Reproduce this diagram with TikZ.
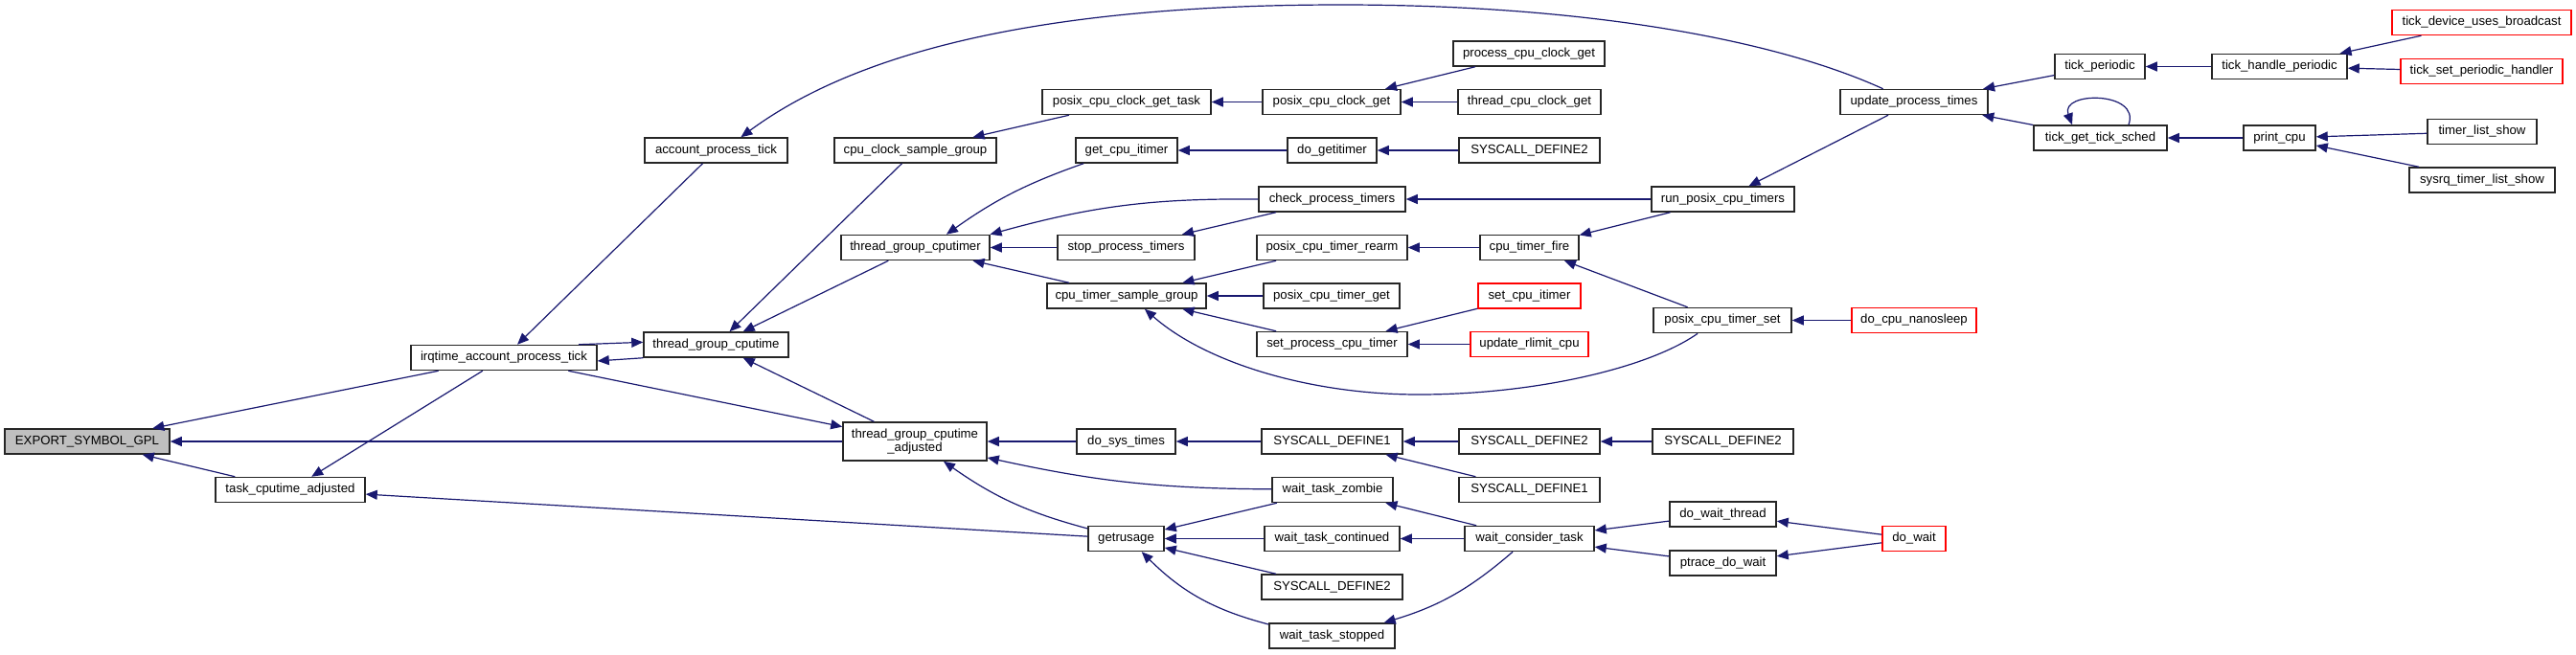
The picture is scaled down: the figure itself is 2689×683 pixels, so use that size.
\documentclass[tikz,border=0pt]{standalone}
\usepackage{fontspec}
\setmainfont{Liberation Sans}
\usepackage{xcolor}
\usepackage{tikz}
\usetikzlibrary{arrows.meta, calc}

\definecolor{edgeblue}{HTML}{191970}

\begin{document}
\begin{tikzpicture}[x=1pt, y=-1pt,
            fn/.style={rectangle, draw=black!85, line width=1.5pt, fill=white,
            minimum height=26pt, inner sep=0pt, align=center,
            font=\fontsize{13.2}{14}\selectfont},
            fnred/.style={fn, draw=red},
            fnroot/.style={fn, fill=black!25},
            call/.style={-{Triangle[length=12pt,width=10pt]}, line width=1.2pt, edgeblue}
        ]
            \useasboundingbox (0,0) rectangle (2689,683);

            % Left part
            \node[fnroot, minimum width=172] (export)  at (91,461)    {EXPORT\_SYMBOL\_GPL};
            \node[fn, minimum width=156]     (taskadj) at (303,511.5) {task\_cputime\_adjusted};
            \node[fn, minimum width=194]     (irq)     at (526,373.5) {irqtime\_account\_process\_tick};
            \node[fn, minimum width=149]     (acct)    at (747.5,157) {account\_process\_tick};
            \node[fn, minimum width=151]     (tgc)     at (747.5,360) {thread\_group\_cputime};

            % Column with the cputimer
            \node[fn, minimum width=169] (ccsg)     at (955.5,157)   {cpu\_clock\_sample\_group};
            \node[fn, minimum width=155] (tgctimer) at (955.5,258.5) {thread\_group\_cputimer};
            \node[fn, minimum width=150, minimum height=40] (tgcadj) at (955,461)
                {thread\_group\_cputime\\\_adjusted};

            \node[fn, minimum width=176] (pcgtask)    at (1176,106.5)   {posix\_cpu\_clock\_get\_task};
            \node[fn, minimum width=106] (getitimer)  at (1176,157)     {get\_cpu\_itimer};
            \node[fn, minimum width=143] (stoppt)     at (1175.5,258.5) {stop\_process\_timers};
            \node[fn, minimum width=166] (ctsg)       at (1176,309)     {cpu\_timer\_sample\_group};
            \node[fn, minimum width=103] (dosystimes) at (1175.5,461)   {do\_sys\_times};
            \node[fn, minimum width=79]  (getrusage)  at (1175.5,562.5) {getrusage};

            % Middle column
            \node[fn, minimum width=144] (pcg)         at (1390,106.5)   {posix\_cpu\_clock\_get};
            \node[fn, minimum width=93]  (dogetitimer) at (1390.5,157)   {do\_getitimer};
            \node[fn, minimum width=153] (cpt)         at (1390.5,208)   {check\_process\_timers};
            \node[fn, minimum width=157] (rearm)       at (1390.5,258.5) {posix\_cpu\_timer\_rearm};
            \node[fn, minimum width=142] (timerget)    at (1390,309)     {posix\_cpu\_timer\_get};
            \node[fn, minimum width=157] (setproc)     at (1390.5,359.5) {set\_process\_cpu\_timer};
            \node[fn, minimum width=147] (sdonea)      at (1390.5,461)   {SYSCALL\_DEFINE1};
            \node[fn, minimum width=126] (zombie)      at (1391,511.5)   {wait\_task\_zombie};
            \node[fn, minimum width=141] (continued)   at (1390.5,562.5) {wait\_task\_continued};
            \node[fn, minimum width=147] (sdtwolow)    at (1390.5,613)   {SYSCALL\_DEFINE2};
            \node[fn, minimum width=131] (stopped)     at (1390.5,664)   {wait\_task\_stopped};

            \node[fn, minimum width=158]    (proccg)       at (1596,56)      {process\_cpu\_clock\_get};
            \node[fn, minimum width=149]    (threadcg)     at (1596.5,106.5) {thread\_cpu\_clock\_get};
            \node[fn, minimum width=147]    (sdtwotop)     at (1596.5,157)   {SYSCALL\_DEFINE2};
            \node[fn, minimum width=103]    (timerfire)    at (1596.5,258.5) {cpu\_timer\_fire};
            \node[fnred, minimum width=107] (setcpuitimer) at (1596.5,309)   {set\_cpu\_itimer};
            \node[fnred, minimum width=123] (rlimit)       at (1596.5,359.5) {update\_rlimit\_cpu};
            \node[fn, minimum width=147]    (sdtwob)       at (1596.5,461)   {SYSCALL\_DEFINE2};
            \node[fn, minimum width=147]    (sdoneb)       at (1596.5,511.5) {SYSCALL\_DEFINE1};
            \node[fn, minimum width=135]    (consider)     at (1596.5,562.5) {wait\_consider\_task};

            % Right part
            \node[fn, minimum width=154]    (upt)       at (1998,106.5)  {update\_process\_times};
            \node[fn, minimum width=149]    (runposix)  at (1798.5,208)  {run\_posix\_cpu\_timers};
            \node[fn, minimum width=144]    (timerset)  at (1798,334.5)  {posix\_cpu\_timer\_set};
            \node[fn, minimum width=147]    (sdtwoc)    at (1798.5,461)  {SYSCALL\_DEFINE2};
            \node[fn, minimum width=111]    (dwthread)  at (1798.5,537)  {do\_wait\_thread};
            \node[fn, minimum width=111]    (ptrace)    at (1798.5,588)  {ptrace\_do\_wait};
            \node[fnred, minimum width=130] (nanosleep) at (1998,334.5)  {do\_cpu\_nanosleep};
            \node[fnred, minimum width=66]  (dowait)    at (1998,562.5)  {do\_wait};

            \node[fn, minimum width=94]     (tickper)    at (2192,69.5)   {tick\_periodic};
            \node[fn, minimum width=139]    (tgts)       at (2192.5,144)  {tick\_get\_tick\_sched};
            \node[fn, minimum width=141]    (tickhandle) at (2379.5,69.5) {tick\_handle\_periodic};
            \node[fn, minimum width=75]     (printcpu)   at (2379.5,144)  {print\_cpu};
            \node[fnred, minimum width=187] (tickbcast)  at (2590.5,23.5) {tick\_device\_uses\_broadcast};
            \node[fnred, minimum width=169] (ticksetph)  at (2590.5,74.5) {tick\_set\_periodic\_handler};
            \node[fn, minimum width=114]    (tls)        at (2591,137.5)  {timer\_list\_show};
            \node[fn, minimum width=152]    (sysrq)      at (2591,188)    {sysrq\_timer\_list\_show};

            % Calls into EXPORT_SYMBOL_GPL
            \draw[call] (irq)     -- (export);
            \draw[call] (tgcadj)  -- (export);
            \draw[call] (taskadj) -- (export);
            \draw[call] (irq)     -- (taskadj);
            \draw[call] (getrusage) -- (taskadj);

            \draw[call] (acct)     -- (irq);
            \draw[call] (irq.10)   -- (tgc.178);
            \draw[call] (tgc.south west) -- (irq.-2);
            \draw[call] (irq)      -- (tgcadj);
            \draw[call] (tgcadj)   -- (tgc);
            \draw[call] (ccsg)     -- (tgc);
            \draw[call] (tgctimer) -- (tgc);
            \draw[call] (upt.157) .. controls (1850,40) and (1650,5) .. (1400,5)
                .. controls (1100,5) and (900,50) .. (acct.28);

            % cputimer
            \draw[call] (pcgtask)   -- (ccsg);
            \draw[call] (pcg)       -- (pcgtask);
            \draw[call] (proccg)    -- (pcg);
            \draw[call] (threadcg)  -- (pcg);
            \draw[call] (dogetitimer) -- (getitimer);
            \draw[call] (sdtwotop)  -- (dogetitimer);
            \draw[call] (getitimer) to[bend right=8] (tgctimer.23);
            \draw[call] (cpt.west)  to[bend right=8] (tgctimer.10);
            \draw[call] (stoppt)    -- (tgctimer);
            \draw[call] (ctsg)      -- (tgctimer);
            \draw[call] (cpt)       -- (stoppt);
            \draw[call] (runposix)  -- (cpt);
            \draw[call] (upt)       -- (runposix);
            \draw[call] (rearm)     -- (ctsg);
            \draw[call] (timerget)  -- (ctsg);
            \draw[call] (setproc)   -- (ctsg);
            \draw[call] (timerset.-152) .. controls (1720,385) and (1600,412) .. (1481,412)
                .. controls (1370,412) and (1260,380) .. (ctsg.-36);
            \draw[call] (timerfire) -- (rearm);
            \draw[call] (runposix)  -- (timerfire);
            \draw[call] (timerset)  -- (timerfire);
            \draw[call] (setcpuitimer) -- (setproc);
            \draw[call] (rlimit)    -- (setproc);
            \draw[call] (nanosleep) -- (timerset);

            % tick side
            \draw[call] (tickper)    -- (upt);
            \draw[call] (tgts)       -- (upt);
            \draw[call] (tgts.25) .. controls (2235,95) and (2150,95) .. (tgts.155);
            \draw[call] (tickhandle) -- (tickper);
            \draw[call] (tickbcast)  -- (tickhandle);
            \draw[call] (ticksetph)  -- (tickhandle);
            \draw[call] (printcpu)   -- (tgts);
            \draw[call] (tls)        -- (printcpu);
            \draw[call] (sysrq)      -- (printcpu);

            % times and wait
            \draw[call] (dosystimes) -- (tgcadj);
            \draw[call] (getrusage)  to[bend left=10] (tgcadj);
            \draw[call] (zombie)     to[bend left=6] (tgcadj);
            \draw[call] (sdonea)     -- (dosystimes);
            \draw[call] (sdtwob)     -- (sdonea);
            \draw[call] (sdoneb)     -- (sdonea);
            \draw[call] (sdtwoc)     -- (sdtwob);
            \draw[call] (zombie)     -- (getrusage);
            \draw[call] (continued)  -- (getrusage);
            \draw[call] (sdtwolow)   -- (getrusage);
            \draw[call] (stopped)    to[bend left=15] (getrusage);
            \draw[call] (consider)   -- (zombie);
            \draw[call] (consider)   -- (continued);
            \draw[call] (consider)   to[bend left=12] (stopped);
            \draw[call] (dwthread)   -- (consider);
            \draw[call] (ptrace)     -- (consider);
            \draw[call] (dowait)     -- (dwthread);
            \draw[call] (dowait)     -- (ptrace);

        \end{tikzpicture}
\end{document}
